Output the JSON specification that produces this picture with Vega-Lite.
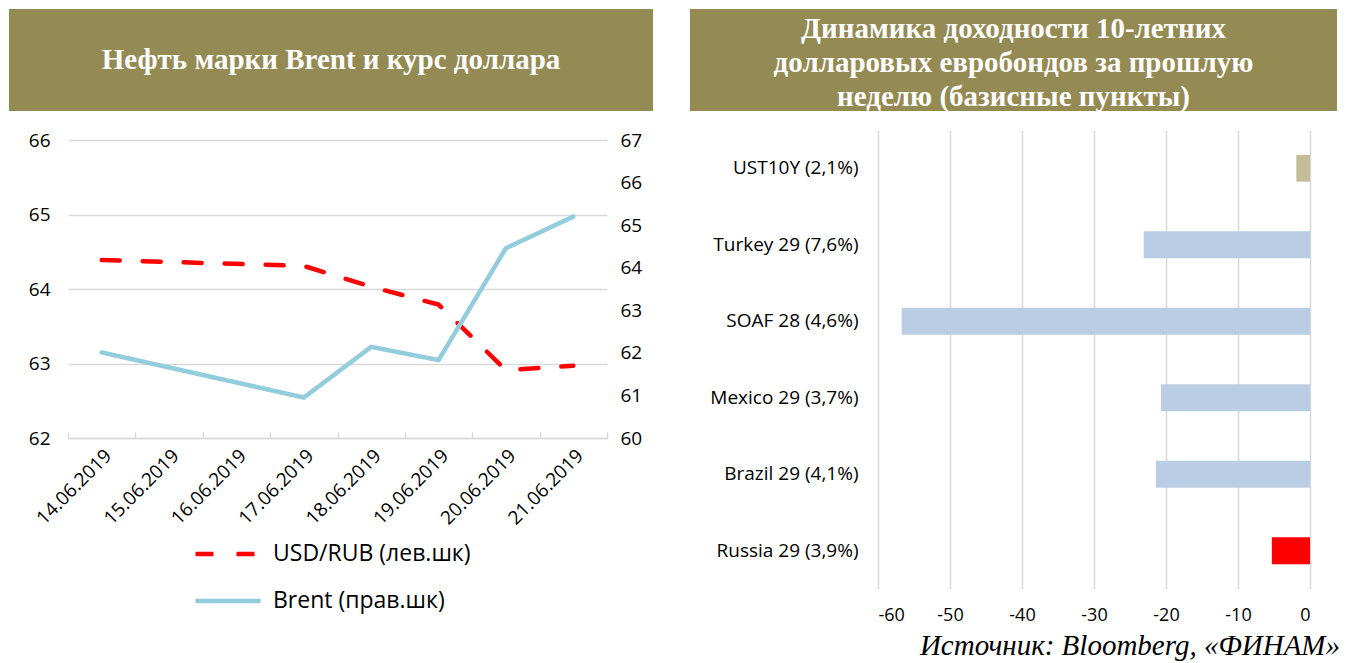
{
  "$schema": "https://vega.github.io/schema/vega-lite/v6.json",
  "padding": {"left": 9, "top": 9, "right": 6, "bottom": 0},
  "autosize": {"type": "pad"},
  "background": "white",
  "config": {
    "view": {"stroke": null},
    "font": "Open Sans",
    "axis": {"labelFont": "Open Sans", "labelColor": "#000000", "labelFontSize": 19, "title": null}
  },
  "title": {
    "text": "Источник: Bloomberg, «ФИНАМ»",
    "orient": "bottom",
    "anchor": "end",
    "font": "Liberation Serif",
    "fontStyle": "italic",
    "fontWeight": "normal",
    "fontSize": 29,
    "color": "#000000",
    "offset": 8,
    "dx": 3
  },
  "resolve": {"scale": {"color": "independent", "strokeDash": "independent"}},
  "spacing": 37,
  "hconcat": [
    {
      "spacing": 20,
      "resolve": {"scale": {"color": "independent", "strokeDash": "independent"}},
      "vconcat": [
        {
          "width": 644,
          "height": 102,
          "view": {"fill": "#948A54", "stroke": null},
          "data": {"values": [{"t": "Нефть марки Brent и курс доллара"}]},
          "mark": {"type": "text", "font": "Liberation Serif", "fontWeight": "bold", "fontSize": 29, "color": "#FFFFFF"},
          "encoding": {"text": {"field": "t", "type": "nominal"}}
        },
        {
          "width": 598,
          "height": 298,
          "data": {
            "values": [
              {"date": "14.06.2019", "series": "USD/RUB (лев.шк)", "value": 64.39},
              {"date": "17.06.2019", "series": "USD/RUB (лев.шк)", "value": 64.31},
              {"date": "18.06.2019", "series": "USD/RUB (лев.шк)", "value": 64.03},
              {"date": "19.06.2019", "series": "USD/RUB (лев.шк)", "value": 63.79},
              {"date": "20.06.2019", "series": "USD/RUB (лев.шк)", "value": 62.91},
              {"date": "21.06.2019", "series": "USD/RUB (лев.шк)", "value": 62.97},
              {"date": "14.06.2019", "series": "Brent (прав.шк)", "value": 62.01},
              {"date": "17.06.2019", "series": "Brent (прав.шк)", "value": 60.95},
              {"date": "18.06.2019", "series": "Brent (прав.шк)", "value": 62.14},
              {"date": "19.06.2019", "series": "Brent (прав.шк)", "value": 61.83},
              {"date": "20.06.2019", "series": "Brent (прав.шк)", "value": 64.46},
              {"date": "21.06.2019", "series": "Brent (прав.шк)", "value": 65.2}
            ]
          },
          "encoding": {
            "x": {
              "field": "date",
              "type": "ordinal",
              "scale": {
                "type": "band",
                "domain": ["14.06.2019", "15.06.2019", "16.06.2019", "17.06.2019", "18.06.2019", "19.06.2019", "20.06.2019", "21.06.2019"],
                "range": [59, 598],
                "paddingInner": 0,
                "paddingOuter": 0
              },
              "axis": {
                "labelAngle": -45,
                "labelFontSize": 19,
                "domainColor": "#D9D9D9",
                "domainWidth": 1.5,
                "tickBand": "extent",
                "tickColor": "#D9D9D9",
                "tickWidth": 1.5,
                "tickSize": -6,
                "labelPadding": 14
              }
            },
            "color": {
              "field": "series",
              "type": "nominal",
              "scale": {"domain": ["USD/RUB (лев.шк)", "Brent (прав.шк)"], "range": ["#FF0000", "#93CDDD"]},
              "legend": {
                "orient": "none",
                "legendX": 184,
                "legendY": 379,
                "title": null,
                "direction": "vertical",
                "symbolType": "stroke",
                "symbolSize": 4225,
                "symbolStrokeWidth": 4.5,
                "labelFont": "Open Sans",
                "labelFontSize": 23,
                "labelColor": "#000000",
                "labelOffset": 10,
                "labelLimit": 400,
                "rowPadding": -31,
                "padding": 0
              }
            },
            "strokeDash": {
              "field": "series",
              "type": "nominal",
              "scale": {"domain": ["USD/RUB (лев.шк)", "Brent (прав.шк)"], "range": [[18, 23], [1, 0]]}
            }
          },
          "layer": [
            {
              "transform": [{"filter": "datum.series === 'USD/RUB (лев.шк)'"}],
              "mark": {"type": "line", "strokeWidth": 4.5, "strokeCap": "round"},
              "encoding": {
                "y": {
                  "field": "value",
                  "type": "quantitative",
                  "scale": {"domain": [62, 66], "nice": false, "zero": false},
                  "axis": {
                    "orient": "left",
                    "values": [62, 63, 64, 65, 66],
                    "grid": true,
                    "gridColor": "#D9D9D9",
                    "gridWidth": 1.5,
                    "domain": false,
                    "ticks": false,
                    "offset": -59,
                    "labelPadding": 18
                  }
                }
              }
            },
            {
              "transform": [{"filter": "datum.series === 'Brent (прав.шк)'"}],
              "mark": {"type": "line", "strokeWidth": 4.5, "strokeCap": "round"},
              "encoding": {
                "y": {
                  "field": "value",
                  "type": "quantitative",
                  "scale": {"domain": [60, 67], "nice": false, "zero": false},
                  "axis": {
                    "orient": "right",
                    "values": [60, 61, 62, 63, 64, 65, 66, 67],
                    "grid": false,
                    "domain": false,
                    "ticks": false,
                    "labelPadding": 13
                  }
                }
              }
            }
          ],
          "resolve": {"scale": {"y": "independent"}}
        }
      ]
    },
    {
      "spacing": 18,
      "resolve": {"scale": {"color": "independent"}},
      "vconcat": [
        {
          "width": 647,
          "height": 102,
          "view": {"fill": "#948A54", "stroke": null},
          "data": {"values": [{"t": "Динамика доходности 10-летних\nдолларовых евробондов за прошлую\nнеделю (базисные пункты)"}]},
          "mark": {"type": "text", "font": "Liberation Serif", "fontWeight": "bold", "fontSize": 29, "color": "#FFFFFF", "lineBreak": "\n", "lineHeight": 34, "baseline": "middle", "dy": -31},
          "encoding": {"text": {"field": "t", "type": "nominal"}}
        },
        {
          "width": 620,
          "height": 459,
          "data": {
            "values": [
              {"bond": "UST10Y (2,1%)", "value": -1.9, "group": "us"},
              {"bond": "Turkey 29 (7,6%)", "value": -23.1, "group": "em"},
              {"bond": "SOAF 28 (4,6%)", "value": -56.7, "group": "em"},
              {"bond": "Mexico 29 (3,7%)", "value": -20.7, "group": "em"},
              {"bond": "Brazil 29 (4,1%)", "value": -21.4, "group": "em"},
              {"bond": "Russia 29 (3,9%)", "value": -5.3, "group": "ru"}
            ]
          },
          "mark": {"type": "bar"},
          "encoding": {
            "y": {
              "field": "bond",
              "type": "nominal",
              "sort": null,
              "scale": {"paddingInner": 0.65, "paddingOuter": 0.325},
              "axis": {"domain": false, "ticks": false, "offset": -188, "labelPadding": 20, "labelFontSize": 19}
            },
            "x": {
              "field": "value",
              "type": "quantitative",
              "stack": null,
              "scale": {"domain": [-60, 0], "nice": false, "range": [188, 620]},
              "axis": {
                "values": [-60, -50, -40, -30, -20, -10, 0],
                "labelExpr": "toString(datum.value)",
                "grid": true,
                "gridColor": "#D9D9D9",
                "gridWidth": 1.5,
                "domain": false,
                "ticks": false,
                "labelPadding": 17,
                "labelFontSize": 18
              }
            },
            "color": {
              "field": "group",
              "type": "nominal",
              "scale": {"domain": ["us", "em", "ru"], "range": ["#C4BD97", "#B9CDE5", "#FF0000"]},
              "legend": null
            }
          }
        }
      ]
    }
  ]
}
